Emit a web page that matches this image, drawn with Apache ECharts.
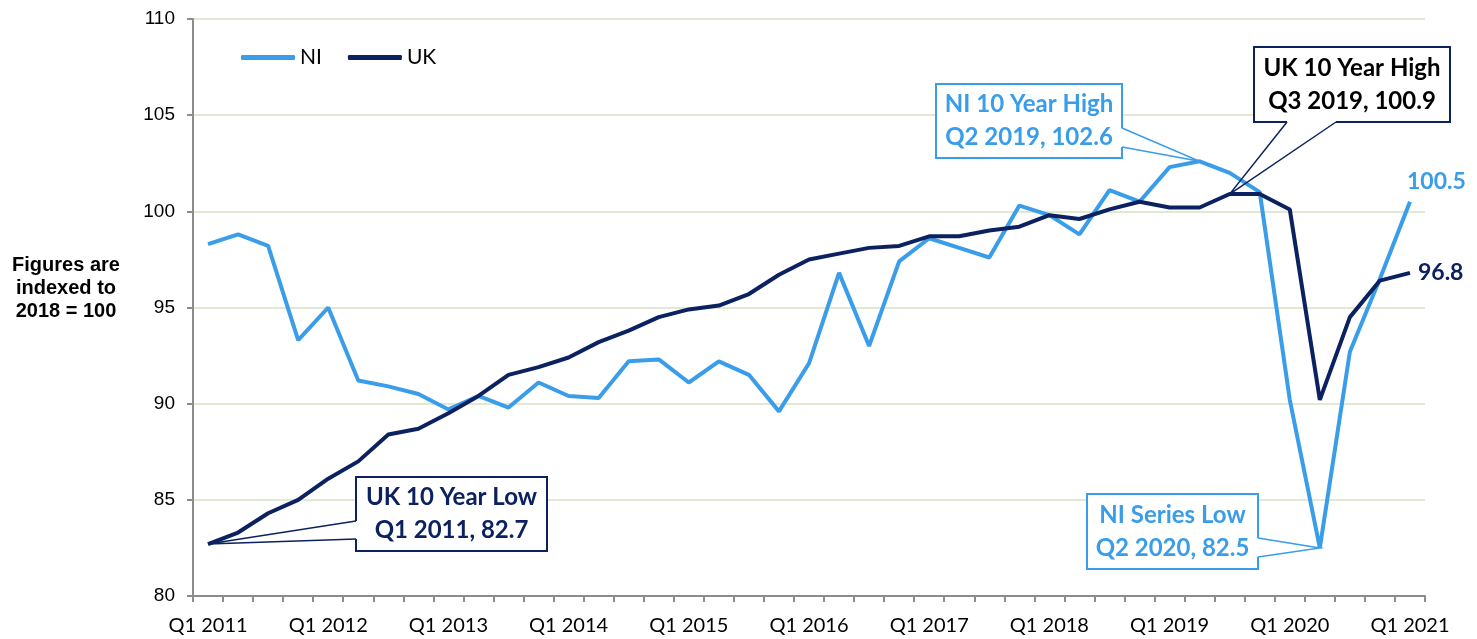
<!DOCTYPE html>
<html>
<head>
<meta charset="utf-8">
<script src="https://cdn.jsdelivr.net/npm/echarts@6/dist/echarts.min.js"></script>
<style>
  html, body { margin: 0; padding: 0; background: #fff; }
  #main { width: 1477px; height: 639px; }
</style>
</head>
<body>
<div id="main"></div>
<script>
var quarters = [
    'Q1 2011', 'Q2 2011', 'Q3 2011', 'Q4 2011',
    'Q1 2012', 'Q2 2012', 'Q3 2012', 'Q4 2012',
    'Q1 2013', 'Q2 2013', 'Q3 2013', 'Q4 2013',
    'Q1 2014', 'Q2 2014', 'Q3 2014', 'Q4 2014',
    'Q1 2015', 'Q2 2015', 'Q3 2015', 'Q4 2015',
    'Q1 2016', 'Q2 2016', 'Q3 2016', 'Q4 2016',
    'Q1 2017', 'Q2 2017', 'Q3 2017', 'Q4 2017',
    'Q1 2018', 'Q2 2018', 'Q3 2018', 'Q4 2018',
    'Q1 2019', 'Q2 2019', 'Q3 2019', 'Q4 2019',
    'Q1 2020', 'Q2 2020', 'Q3 2020', 'Q4 2020',
    'Q1 2021'
];
var niValues = [
    98.3, 98.8, 98.2, 93.3, 95.0, 91.2, 90.9, 90.5, 89.7, 90.4,
    89.8, 91.1, 90.4, 90.3, 92.2, 92.3, 91.1, 92.2, 91.5, 89.6,
    92.1, 96.8, 93.0, 97.4, 98.6, 98.1, 97.6, 100.3, 99.8, 98.8,
    101.1, 100.5, 102.3, 102.6, 102.0, 101.0, 90.2, 82.5, 92.7, 96.5,
    100.5
];
var ukValues = [
    82.7, 83.3, 84.3, 85.0, 86.1, 87.0, 88.4, 88.7, 89.5, 90.4,
    91.5, 91.9, 92.4, 93.2, 93.8, 94.5, 94.9, 95.1, 95.7, 96.7,
    97.5, 97.8, 98.1, 98.2, 98.7, 98.7, 99.0, 99.2, 99.8, 99.6,
    100.1, 100.5, 100.2, 100.2, 100.9, 100.9, 100.1, 90.2, 94.5, 96.4,
    96.8
];
var yTicks = { min: 80, max: 110, step: 5 };

var NI_COLOR = '#3a9de9';
var UK_COLOR = '#0c2260';

var chart = echarts.init(document.getElementById('main'));

function oneDecimal(p) {
    var v = Array.isArray(p.value) ? p.value[1] : p.value;
    return Number(v).toFixed(1);
}

var option = {
    animation: false,
    backgroundColor: '#fff',
    grid: { left: 193, right: 52, top: 19, bottom: 43 },
    legend: {
        left: 236,
        top: 42,
        itemWidth: 54,
        itemHeight: 5,
        itemGap: 26,
        icon: 'roundRect',
        textStyle: { fontFamily: 'Lato', fontSize: 21, color: '#000' },
        data: ['NI', 'UK']
    },
    xAxis: {
        type: 'category',
        data: quarters,
        boundaryGap: true,
        axisLine: { lineStyle: { color: '#8c8c8c', width: 2 } },
        axisTick: { show: true, interval: 0, length: 6, lineStyle: { color: '#8c8c8c', width: 2 } },
        axisLabel: { interval: 3, margin: 20, fontFamily: 'Lato', fontSize: 20, color: '#000' },
        splitLine: { show: false }
    },
    yAxis: {
        type: 'value',
        min: yTicks.min,
        max: yTicks.max,
        interval: yTicks.step,
        axisLine: { show: true, lineStyle: { color: '#8c8c8c', width: 2 } },
        axisTick: { show: true, length: 6, lineStyle: { color: '#8c8c8c', width: 2 } },
        axisLabel: { margin: 18, fontFamily: 'Liberation Sans', fontSize: 19, color: '#000' },
        splitLine: { show: true, lineStyle: { color: '#e2e9d2', width: 2 } }
    },
    series: [
        {
            name: 'NI',
            type: 'line',
            symbol: 'none',
            color: NI_COLOR,
            lineStyle: { width: 4, color: NI_COLOR },
            data: niValues,
            endLabel: {
                show: true, formatter: oneDecimal, distance: 5, offset: [-8, -20],
                fontFamily: 'Lato', fontWeight: 'bold', fontSize: 23, color: NI_COLOR
            },
            z: 3
        },
        {
            name: 'UK',
            type: 'line',
            symbol: 'none',
            color: UK_COLOR,
            lineStyle: { width: 4, color: UK_COLOR },
            data: ukValues,
            endLabel: {
                show: true, formatter: oneDecimal, distance: 8,
                fontFamily: 'Lato', fontWeight: 'bold', fontSize: 23, color: UK_COLOR
            },
            z: 4
        }
    ]
};
chart.setOption(option);

// callout boxes: box placement is layout, the pointer tip comes from the data
var callouts = [
    { series: 0, values: niValues, index: 33, title: 'NI 10 Year High',
      box: [936, 84, 186, 74], border: NI_COLOR, text: NI_COLOR, side: 'right', from: [128, 147] },
    { series: 1, values: ukValues, index: 34, title: 'UK 10 Year High',
      box: [1254, 47, 196, 75], border: UK_COLOR, text: '#000', side: 'bottom', from: [1287, 1336] },
    { series: 1, values: ukValues, index: 0, title: 'UK 10 Year Low',
      box: [356, 477, 191, 74], border: UK_COLOR, text: UK_COLOR, side: 'left', from: [521, 539] },
    { series: 0, values: niValues, index: 37, title: 'NI Series Low',
      box: [1087, 494, 171, 75], border: NI_COLOR, text: NI_COLOR, side: 'right', from: [538, 557] }
];

var graphics = [];
callouts.forEach(function (c) {
    var tip = chart.convertToPixel({ seriesIndex: c.series }, [c.index, c.values[c.index]]);
    var x = c.box[0], y = c.box[1], w = c.box[2], h = c.box[3];
    var a, b;
    if (c.side === 'right') {
        a = [x + w, c.from[0]]; b = [x + w, c.from[1]];
    } else if (c.side === 'left') {
        a = [x, c.from[0]]; b = [x, c.from[1]];
    } else {
        a = [c.from[0], y + h]; b = [c.from[1], y + h];
    }
    graphics.push({
        type: 'rect', z: 50,
        shape: { x: x, y: y, width: w, height: h },
        style: { fill: '#fff', stroke: c.border, lineWidth: 2 }
    });
    // open the border where the pointer attaches
    graphics.push({
        type: 'line', z: 51,
        shape: { x1: a[0], y1: a[1], x2: b[0], y2: b[1] },
        style: { stroke: '#fff', lineWidth: 3 }
    });
    graphics.push({
        type: 'polyline', z: 52,
        shape: { points: [a, tip, b] },
        style: { stroke: c.border, lineWidth: 1.5, fill: null }
    });
    graphics.push({
        type: 'text', z: 53,
        x: x + w / 2, y: y + h / 2,
        style: {
            text: c.title + '\n' + quarters[c.index] + ', ' + c.values[c.index].toFixed(1),
            align: 'center', verticalAlign: 'middle',
            font: 'bold 24px Lato', lineHeight: 33, fill: c.text
        }
    });
});

graphics.push({
    type: 'text', z: 53,
    x: 66, y: 288,
    style: {
        text: 'Figures are\nindexed to\n2018 = 100',
        align: 'center', verticalAlign: 'middle',
        font: 'bold 20px "Liberation Sans"', lineHeight: 23, fill: '#000'
    }
});

chart.setOption({ graphic: graphics });
</script>
</body>
</html>
